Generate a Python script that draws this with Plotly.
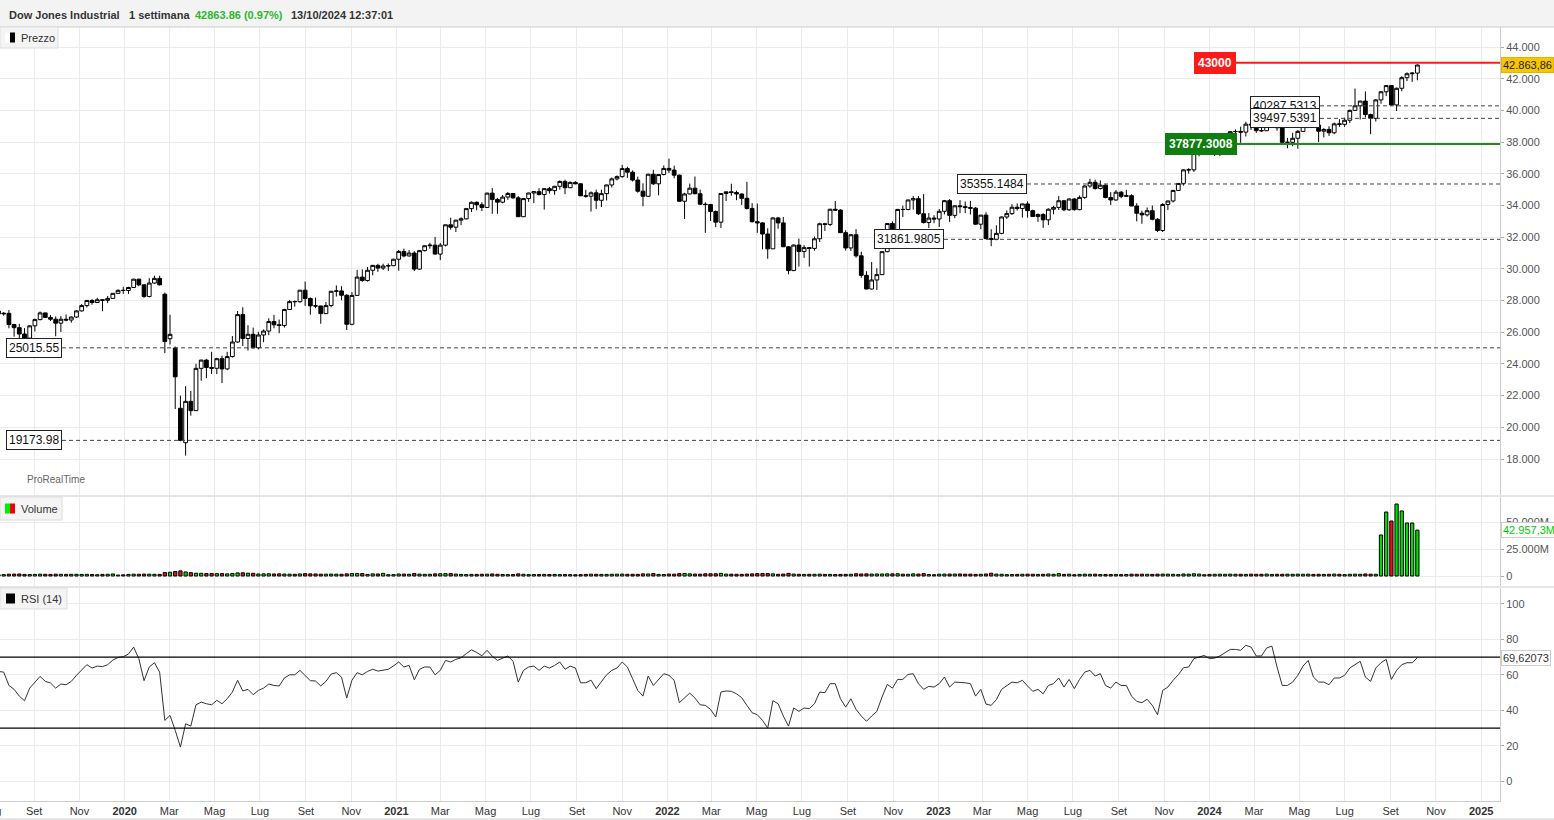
import pandas as pd
import plotly.graph_objects as go

# ---------------- data (weekly bars, Monday of each week, from 2019-07-15) ----------------
start_week = "2019-07-15"

open_ = [
    27332, 27154, 27192, 26485, 26287, 25886, 25629, 26403, 26797, 27220, 26935, 26820, 26573, 26817, 26770, 26958, 27347, 27681, 28005, 27876, 28051, 28015, 28135, 28455, 28645,
    28635, 28823, 29348, 28990, 28256, 29102, 29398, 28400, 25590, 25000, 21200, 19028, 21637, 21053, 23719, 24242, 23775, 23724, 24331, 23685, 24465, 25383, 27111, 25606, 25871, 25016, 25827, 26075, 26672, 26470, 26428, 27433, 27931, 27930, 28654, 28133, 27666, 27657, 27174, 27682, 28586, 28606, 28335, 26502, 28323, 29479, 29263, 29910, 30218, 30046, 30179, 30200,
    30606, 31098, 30814, 30997, 29983, 31148, 31458, 31494, 30932, 31496, 32779, 32628, 33073, 33153, 33801, 34200, 34043, 33875, 34778, 34382, 34208, 34529, 34756, 34480, 33290, 34434, 34786, 34870, 34688, 35061, 34935, 35209, 35515, 35120, 35456, 35369, 34608, 34584, 34798, 34327, 34746, 35295, 35677, 35820, 36328, 36100, 35602, 34899, 34580, 35971, 35365, 35951,
    36338, 36231, 35912, 34265, 34725, 35089, 34738, 34079, 34059, 33615, 32945, 34755, 34861, 34818, 34721, 34451, 33811, 32977, 32899, 32197, 31262, 33213, 32900, 31393, 29889, 31501, 31097, 31338, 31289, 31899, 32845, 32803, 33761, 33707, 32283, 31318, 32152, 30822, 29590, 28726, 29297, 29635, 31083, 32862, 32403, 33748, 33746, 34347, 34430, 33477, 32920, 33204,
    33147, 33631, 34303, 33375, 33978, 33926, 33869, 33827, 32817, 33391, 31910, 31862, 32238, 33274, 33485, 33886, 33809, 34098, 33674, 33300, 33427, 33093, 33762, 33877, 34299, 33727, 34408, 33734, 34509, 35228, 35459, 35066, 35281, 34500, 34346, 34838, 34576, 34618, 33964, 33508, 33407, 33670, 33127, 32418, 34061, 34283, 34947, 35390, 36246, 36248, 37306, 37385,
    37690, 37466, 37593, 37863, 38109, 38654, 38671, 38628, 39131, 39087, 38723, 38715, 39476, 39807, 38904, 37983, 37986, 38240, 38676, 39513, 40004, 39070, 38686, 38799, 38589, 39150, 39119, 39376, 40001, 40288, 40589, 39737, 39498, 40660, 41175, 41563, 40345, 41394, 42063, 42313, 42353,
]

high = [
    27399, 27272, 27398, 26494, 26532, 26260, 26428, 26859, 27306, 27230, 27080, 26998, 27028, 27121, 27000, 27386, 27775, 28036, 28090, 28174, 28069, 28290, 28456, 28701, 28872,
    28872, 29374, 29373, 29009, 29409, 29568, 29568, 28500, 27102, 25100, 22000, 22595, 22300, 24008, 24264, 24300, 24765, 24382, 24525, 24765, 25759, 27338, 27580, 26446, 26290, 26030, 26180, 26880, 27095, 26800, 27483, 28023, 28007, 28659, 29199, 28195, 28185, 27672, 27913, 28609, 28958, 28903, 28400, 28529, 29933, 29967, 30117, 30250, 30320, 30325, 30340, 30637,
    31193, 31272, 31188, 31112, 31200, 31482, 31643, 32010, 31630, 32793, 33227, 33098, 33258, 33810, 34256, 34256, 34200, 34811, 35091, 34474, 34659, 34849, 34774, 34587, 34478, 34802, 34893, 35091, 35068, 35171, 35236, 35580, 35632, 35510, 35530, 35379, 34990, 34884, 35000, 34996, 35310, 35765, 35892, 36565, 36442, 36210, 35820, 35400, 36000, 36249, 35952, 36527,
    36953, 36513, 35950, 34800, 35381, 35825, 35000, 34200, 34100, 33686, 34760, 34890, 35372, 34933, 34760, 35492, 34143, 34118, 32944, 32561, 33250, 33268, 33273, 31430, 31532, 31908, 31495, 31380, 32036, 32910, 32903, 33790, 34281, 33760, 32436, 32180, 32504, 31083, 29850, 30429, 30038, 31100, 32888, 33000, 33784, 33987, 34362, 34595, 34590, 34712, 33520, 33387,
    33773, 34342, 34400, 33990, 34335, 34253, 34291, 33900, 33400, 33572, 32500, 32748, 33300, 33685, 34082, 34128, 34104, 34257, 33732, 33500, 33514, 33819, 33977, 34588, 34350, 34451, 34466, 34630, 35283, 35679, 35630, 35577, 35320, 34838, 34979, 34900, 34988, 34701, 34142, 33670, 33873, 34000, 33200, 34149, 34300, 34991, 35420, 36282, 36352, 37321, 37641, 37778,
    37753, 37747, 37890, 38215, 38704, 38800, 38974, 39283, 39200, 39289, 39201, 39889, 39825, 39890, 39036, 38260, 38580, 38770, 39520, 40051, 40077, 39165, 38876, 39000, 39230, 39450, 39540, 40050, 41376, 40600, 41198, 39800, 40707, 41200, 41585, 41585, 41440, 42160, 42400, 42400, 42900,
]

low = [
    27048, 27040, 26249, 25718, 25339, 25480, 25500, 26044, 26750, 26923, 26704, 25743, 26018, 26689, 26600, 26897, 27300, 27561, 27735, 27862, 27325, 27840, 28130, 28455, 28419,
    28418, 28801, 28910, 28169, 28200, 29047, 28945, 24681, 25226, 21154, 19121, 18213, 20735, 21053, 22941, 23100, 23361, 23361, 22790, 23600, 24400, 25340, 25128, 24843, 24980, 24920, 25370, 25817, 26250, 25935, 26293, 27424, 27614, 27857, 27664, 27103, 27516, 26537, 27156, 27580, 28250, 28020, 26143, 26440, 28300, 29186, 29200, 29595, 29813, 29926, 29868, 30171,
    29881, 30728, 30775, 29856, 29950, 31102, 31269, 30904, 30547, 31416, 32471, 32322, 32753, 33120, 33587, 33695, 33650, 33850, 33474, 33472, 34140, 34355, 34415, 33271, 33271, 34230, 34145, 34629, 33741, 34750, 34672, 35000, 34710, 35100, 35330, 34600, 34496, 33613, 33785, 33901, 34316, 35133, 35580, 35750, 35739, 35511, 34810, 33952, 34550, 35300, 34640, 35900,
    36045, 35712, 34245, 33150, 34700, 34714, 34031, 32273, 33019, 32632, 32578, 34284, 34615, 34332, 34030, 33748, 32913, 32270, 31228, 30636, 31252, 32529, 31380, 29653, 29860, 30144, 30693, 30143, 31149, 31693, 32396, 32700, 33659, 32270, 31155, 31133, 30707, 29439, 28715, 28700, 28660, 29635, 31050, 31727, 32400, 33266, 33700, 33734, 33400, 32860, 32574, 32882,
    32650, 33434, 32961, 33200, 33510, 33518, 33427, 32780, 32500, 31854, 31429, 31806, 32180, 33150, 33400, 33678, 33235, 33235, 33291, 32961, 32586, 32759, 33441, 33713, 33641, 33661, 33675, 33700, 34406, 35117, 34999, 35009, 34444, 34029, 34300, 34458, 34558, 33963, 33000, 32846, 33300, 33060, 32327, 32327, 33710, 34194, 34917, 35253, 36009, 36114, 37100, 37356,
    37327, 37123, 37122, 37860, 37850, 38378, 37954, 38350, 38763, 38585, 38640, 38710, 39290, 38716, 37960, 37612, 37740, 37580, 38675, 39300, 39060, 38000, 38290, 38390, 38500, 38960, 38958, 39200, 40000, 39430, 39550, 38499, 39297, 40420, 40900, 40300, 39960, 41200, 41850, 41800, 41900,
]

close = [
    27154, 27192, 26485, 26287, 25886, 25629, 26403, 26797, 27220, 26935, 26820, 26573, 26817, 26770, 26958, 27347, 27681, 28005, 27876, 28051, 28015, 28135, 28455, 28645, 28635,
    28823, 29348, 28990, 28256, 29102, 29398, 28992, 25409, 25865, 23186, 19174, 21637, 21053, 23719, 24242, 23775, 23724, 24331, 23685, 24465, 25383, 27111, 25606, 25871, 25016, 25827, 26075, 26672, 26470, 26428, 27433, 27931, 27930, 28654, 28133, 27666, 27657, 27174, 27682, 28586, 28606, 28335, 26502, 28323, 29479, 29263, 29910, 30218, 30046, 30179, 30200, 30606,
    31098, 30814, 30997, 29983, 31148, 31458, 31494, 30932, 31496, 32779, 32628, 33073, 33153, 33801, 34200, 34043, 33875, 34778, 34382, 34208, 34529, 34756, 34480, 33290, 34434, 34786, 34870, 34688, 35061, 34935, 35209, 35515, 35120, 35456, 35369, 34608, 34584, 34798, 34327, 34746, 35295, 35677, 35820, 36328, 36100, 35602, 34899, 34580, 35971, 35365, 35951, 36338,
    36231, 35912, 34265, 34725, 35089, 34738, 34079, 34059, 33615, 32945, 34755, 34861, 34818, 34721, 34451, 33811, 32977, 32899, 32197, 31262, 33213, 32900, 31393, 29889, 31501, 31097, 31338, 31289, 31899, 32845, 32803, 33761, 33707, 32283, 31318, 32152, 30822, 29590, 28726, 29297, 29635, 31083, 32862, 32403, 33748, 33746, 34347, 34430, 33477, 32920, 33204, 33147,
    33631, 34303, 33375, 33978, 33926, 33869, 33827, 32817, 33391, 31910, 31862, 32238, 33274, 33485, 33886, 33809, 34098, 33674, 33300, 33427, 33093, 33762, 33877, 34299, 33727, 34408, 33734, 34509, 35228, 35459, 35066, 35281, 34500, 34346, 34838, 34576, 34618, 33964, 33508, 33407, 33670, 33127, 32418, 34061, 34283, 34947, 35390, 36246, 36248, 37306, 37385, 37690,
    37466, 37593, 37863, 38109, 38654, 38671, 38628, 39131, 39087, 38723, 38715, 39476, 39807, 38904, 37983, 37986, 38240, 38676, 39513, 40004, 39070, 38686, 38799, 38589, 39150, 39119, 39376, 40001, 40288, 40589, 39737, 39498, 40660, 41175, 41563, 40345, 41394, 42063, 42313, 42353, 42863.86,
]

volume_m = [
    1250, 1300, 1700, 1800, 1900, 1500, 1400, 1500, 1700, 1600, 1450, 1700, 1550, 1500, 1550, 1600, 1500, 1550, 1450, 1200, 1500, 1600, 1900, 900, 1100,
    1500, 1700, 1600, 1800, 1700, 1600, 1500, 3200, 3500, 4200, 4800, 3800, 3100, 2600, 2500, 2300, 2400, 2200, 2300, 2000, 2400, 2900, 3000, 2600, 2500, 1900, 2000, 2100, 1900, 2000, 1800, 1700, 1600, 1900, 2200, 2000, 1900, 1700, 1700, 1800, 1700, 1600, 2000, 2300, 2400, 2300, 1500, 2000, 1900, 2500, 1200, 1300,
    1900, 1800, 1600, 2300, 1800, 1600, 1600, 2000, 2100, 2200, 2300, 1800, 1500, 1400, 1500, 1500, 1600, 1700, 1900, 1600, 1400, 1300, 1400, 2000, 1600, 1300, 1400, 1400, 1500, 1400, 1500, 1300, 1400, 1300, 1200, 1300, 1500, 1700, 1600, 1500, 1500, 1600, 1700, 1800, 1600, 1600, 1500, 2000, 1900, 2300, 1500, 1400,
    1800, 1700, 2200, 2400, 2000, 1800, 1700, 2100, 2100, 2100, 2500, 1800, 1700, 1600, 1500, 1800, 2000, 2200, 2400, 2300, 2000, 1600, 1800, 2500, 1800, 1600, 1500, 1600, 1600, 1700, 1500, 1500, 1400, 1500, 1500, 1600, 2100, 1900, 2000, 1800, 1900, 1900, 2000, 2000, 2100, 1700, 1600, 2000, 1800, 2200, 1400, 1200,
    1700, 1800, 1800, 1800, 1900, 1700, 1700, 1500, 1600, 1900, 2600, 1800, 1600, 1300, 1400, 1500, 1600, 1700, 1600, 1500, 1600, 1900, 1600, 2200, 1500, 1700, 1200, 1500, 1700, 1600, 1700, 1400, 1400, 1400, 1500, 1300, 1400, 1700, 1600, 1700, 1600, 1500, 1700, 1800, 1700, 1600, 1300, 1900, 1700, 2100, 1800, 1200,
    1500, 1600, 1700, 1600, 1700, 1600, 1600, 1500, 1700, 1600, 1600, 1800, 1500, 1600, 1600, 1700, 1600, 1700, 1600, 1700, 1500, 1600, 1500, 1600, 1800, 1600, 1300, 1600, 1700, 1600, 1900, 1700, 1600, 38400, 59900, 51500, 67400, 60900, 49600, 49600, 42957.3,
]

rsi14 = [
    61.9, 61.5, 54.0, 51.8, 48.0, 45.4, 52.5, 55.9, 59.1, 56.3, 55.4, 52.5, 54.8, 54.4, 56.3, 59.7, 62.9, 65.7, 63.8, 64.9, 64.6, 65.7, 68.3, 69.8, 70.2,
    71.7, 75.6, 69.1, 56.7, 64.4, 66.8, 61.5, 34.3, 37.1, 28.7, 19.3, 32.4, 31.1, 43.1, 44.6, 43.7, 43.1, 45.6, 43.7, 46.5, 50.3, 56.9, 50.9, 51.8, 48.8, 51.2, 52.5, 54.8, 54.0, 53.7, 58.2, 60.0, 60.0, 62.5, 59.7, 56.7, 56.5, 53.7, 56.3, 60.4, 61.2, 58.7, 46.9, 56.9, 61.2, 60.0, 61.9, 63.1, 62.1, 62.5, 63.1, 65.0,
    67.2, 64.4, 65.3, 57.2, 63.1, 64.4, 64.4, 60.0, 62.5, 68.1, 67.2, 68.7, 69.6, 71.9, 74.1, 72.6, 70.7, 73.8, 70.5, 68.1, 69.4, 70.6, 67.6, 55.9, 62.5, 64.4, 64.9, 62.5, 64.9, 63.8, 65.3, 67.2, 63.1, 64.9, 63.8, 55.5, 55.5, 57.0, 52.2, 56.3, 60.0, 62.5, 63.8, 67.2, 64.4, 57.8, 51.2, 48.0, 59.3, 54.0, 57.4, 60.6,
    59.7, 56.9, 44.3, 46.9, 49.7, 46.9, 43.1, 42.8, 40.5, 36.2, 50.3, 50.9, 50.7, 49.3, 47.1, 42.8, 38.6, 37.5, 34.3, 30.0, 45.4, 43.7, 36.8, 31.1, 41.3, 39.4, 41.3, 40.9, 43.7, 50.3, 49.9, 55.0, 55.0, 46.5, 41.8, 46.5, 40.5, 36.8, 33.8, 36.8, 39.4, 47.5, 54.6, 52.5, 57.4, 57.4, 60.2, 60.6, 55.0, 51.8, 53.5, 53.1,
    55.0, 58.7, 53.1, 55.9, 55.9, 55.5, 55.0, 48.0, 51.8, 43.5, 42.8, 46.0, 51.8, 53.7, 55.9, 55.5, 56.9, 53.7, 50.7, 51.8, 49.3, 54.0, 55.0, 58.2, 53.1, 57.4, 52.2, 57.4, 61.5, 62.5, 59.3, 60.6, 54.0, 52.5, 55.9, 54.0, 54.0, 48.0, 45.0, 44.3, 46.2, 42.8, 37.5, 51.2, 53.1, 56.9, 60.0, 64.0, 64.4, 69.1, 70.0, 70.9,
    69.1, 69.4, 70.6, 72.4, 74.3, 74.3, 73.8, 76.6, 75.6, 70.6, 70.6, 75.1, 76.2, 64.4, 54.0, 54.0, 55.9, 59.7, 64.9, 68.1, 58.7, 55.9, 55.9, 54.4, 58.2, 58.2, 59.7, 63.8, 65.7, 67.6, 58.7, 56.3, 63.8, 66.8, 68.7, 57.4, 62.5, 65.7, 66.8, 66.8, 69.62073,
]

month_tick_dates = pd.date_range("2019-09-01", "2025-01-01", freq="2MS")
month_tick_labels = ["Set", "Nov", "2020", "Mar", "Mag", "Lug", "Set", "Nov",
                     "2021", "Mar", "Mag", "Lug", "Set", "Nov",
                     "2022", "Mar", "Mag", "Lug", "Set", "Nov",
                     "2023", "Mar", "Mag", "Lug", "Set", "Nov",
                     "2024", "Mar", "Mag", "Lug", "Set", "Nov", "2025"]

# horizontal levels: (value, label, start pixel x of the line)
dashed_levels = [25015.55, 19173.98, 31861.9805, 35355.1484, 40287.5313, 39497.5391]
dashed_labels = ["25015.55", "19173.98", "31861.9805", "35355.1484", "40287.5313", "39497.5391"]
dashed_start_px = [62, 62, 944, 1027, 1320, 1320]
resistance_level = 43000
support_level = 37877.3008
last_price = 42863.86
last_volume = 42957.3
last_rsi = 69.62073

n = len(close)
assert len(open_) == n and len(high) == n and len(low) == n and len(volume_m) == n and len(rsi14) == n, (
    len(open_), len(high), len(low), len(close), len(volume_m), len(rsi14))
dates = pd.date_range(start_week, periods=n, freq="7D")

# ---------------- layout geometry (pixels) ----------------
W, H = 1554, 820
ML, MR, MT, MB = 0, 54, 27, 19
PW = W - ML - MR          # 1500
PH = H - MT - MB          # 774


def px_x(px):
    return px / PW


def px_y(py):
    return (H - MB - py) / PH


FONT = "Liberation Sans, Arial, sans-serif"
GRID = "#ebebeb"

vol_colors = ["#00dd00" if c >= o else "#ee1111" for o, c in zip(open_, close)]

fig = go.Figure()
fig.add_trace(go.Candlestick(
    x=dates, open=open_, high=high, low=low, close=close,
    xaxis="x", yaxis="y",
    increasing=dict(line=dict(color="black", width=1), fillcolor="white"),
    decreasing=dict(line=dict(color="black", width=1), fillcolor="black"),
    whiskerwidth=0, showlegend=False, hoverinfo="skip",
))
fig.add_trace(go.Bar(
    x=dates, y=volume_m, xaxis="x", yaxis="y2",
    marker=dict(color=vol_colors, line=dict(color="black", width=1)),
    width=4.4 * 86400000, showlegend=False, hoverinfo="skip",
))
fig.add_trace(go.Scatter(
    x=dates, y=rsi14, xaxis="x", yaxis="y3", mode="lines",
    line=dict(color="#333333", width=1), showlegend=False, hoverinfo="skip",
))

ticktext = ["<b>%s</b>" % t if t.isdigit() else t for t in month_tick_labels]

fig.update_layout(
    width=W, height=H,
    margin=dict(l=ML, r=MR, t=MT, b=MB, pad=0),
    paper_bgcolor="white", plot_bgcolor="white",
    separators=",.",
    hovermode=False,
    boxgap=0.15, boxgroupgap=0.15,
    font=dict(family=FONT, size=11, color="#444"),
    xaxis=dict(
        type="date", range=["2019-07-17", "2025-01-26 07:00"], anchor="y3",
        rangeslider=dict(visible=False),
        tickvals=list(month_tick_dates), ticktext=ticktext,
        tickfont=dict(size=11, color="#333"),
        showgrid=True, gridcolor=GRID, gridwidth=1,
        showline=True, linecolor="#cccccc", ticks="", zeroline=False,
    ),
    yaxis=dict(
        domain=[px_y(495), 1.0], range=[15728, 45262], side="right", anchor="x",
        tickvals=list(range(18000, 44001, 2000)), tickformat=",.0f",
        showgrid=True, gridcolor=GRID, zeroline=False,
        ticks="outside", ticklen=3, tickcolor="#aaaaaa",
        showline=True, linecolor="#cccccc", tickfont=dict(size=11, color="#555"),
    ),
    yaxis2=dict(
        domain=[px_y(586), px_y(497)], range=[-9363, 73970], side="right", anchor="x",
        tickvals=[0, 25000, 50000], ticktext=["0", "25.000M", "50.000M"],
        showgrid=True, gridcolor=GRID, zeroline=False,
        ticks="outside", ticklen=3, tickcolor="#aaaaaa",
        showline=True, linecolor="#cccccc", tickfont=dict(size=11, color="#555"),
    ),
    yaxis3=dict(
        domain=[0.0, px_y(588)], range=[-11.1, 108.9], side="right", anchor="x",
        tickvals=[0, 20, 40, 60, 80, 100],
        showgrid=True, gridcolor=GRID, zeroline=False,
        ticks="outside", ticklen=3, tickcolor="#aaaaaa",
        showline=True, linecolor="#cccccc", tickfont=dict(size=11, color="#555"),
    ),
)

shapes = []
annotations = []

# header bar
shapes.append(dict(type="rect", xref="paper", yref="paper", x0=0, x1=px_x(W), y0=px_y(27), y1=px_y(0),
                   fillcolor="#f3f3f3", line=dict(width=0), layer="below"))
shapes.append(dict(type="line", xref="paper", yref="paper", x0=0, x1=px_x(W), y0=px_y(27), y1=px_y(27),
                   line=dict(color="#cccccc", width=1)))
# panel separators
for py in (496, 587):
    shapes.append(dict(type="line", xref="paper", yref="paper", x0=0, x1=px_x(W), y0=px_y(py), y1=px_y(py),
                       line=dict(color="#cccccc", width=1)))
shapes.append(dict(type="line", xref="paper", yref="paper", x0=0, x1=px_x(W), y0=px_y(819), y1=px_y(819),
                   line=dict(color="#cccccc", width=1)))

# RSI 70 / 30 bands
for lvl in (70, 30):
    shapes.append(dict(type="line", xref="paper", yref="y3", x0=0, x1=1, y0=lvl, y1=lvl,
                       line=dict(color="black", width=1.3)))

# dashed level lines with boxed labels
for val, lab, sx in zip(dashed_levels, dashed_labels, dashed_start_px):
    shapes.append(dict(type="line", xref="paper", yref="y", x0=px_x(sx), x1=1, y0=val, y1=val,
                       line=dict(color="#444444", width=1, dash="4px,3px")))
    annotations.append(dict(xref="paper", yref="y", x=px_x(sx), y=val, xanchor="right", yanchor="middle",
                            text=lab, showarrow=False, bgcolor="white", bordercolor="#222222",
                            borderwidth=1, borderpad=2, font=dict(family=FONT, size=12, color="#111")))

# resistance (red) and support (green)
shapes.append(dict(type="line", xref="paper", yref="y", x0=px_x(1236), x1=1, y0=resistance_level,
                   y1=resistance_level, line=dict(color="#ff1a1a", width=2)))
annotations.append(dict(xref="paper", yref="y", x=px_x(1236), y=resistance_level, xanchor="right",
                        yanchor="middle", text="<b>43000</b>", showarrow=False, bgcolor="#ff1a1a",
                        bordercolor="#ff1a1a", borderwidth=1, borderpad=3,
                        font=dict(family=FONT, size=12, color="white")))
shapes.append(dict(type="line", xref="paper", yref="y", x0=px_x(1237), x1=1, y0=support_level,
                   y1=support_level, line=dict(color="#1e8c1e", width=2)))
annotations.append(dict(xref="paper", yref="y", x=px_x(1237), y=support_level, xanchor="right",
                        yanchor="middle", text="<b>37877.3008</b>", showarrow=False, bgcolor="#0f7d0f",
                        bordercolor="#0f7d0f", borderwidth=1, borderpad=3,
                        font=dict(family=FONT, size=12, color="white")))

# last-value tags on the right axis
annotations.append(dict(xref="paper", yref="y", x=1.0, y=last_price, xanchor="left", yanchor="middle",
                        xshift=1, text="42.863,86", showarrow=False, bgcolor="#f7c600",
                        bordercolor="#e0b400", borderwidth=1, borderpad=1,
                        font=dict(family=FONT, size=11, color="#222")))
annotations.append(dict(xref="paper", yref="y2", x=1.0, y=last_volume, xanchor="left", yanchor="middle",
                        xshift=1, text="42.957,3M", showarrow=False, bgcolor="white",
                        bordercolor="#cccccc", borderwidth=1, borderpad=1,
                        font=dict(family=FONT, size=11, color="#00cc00")))
annotations.append(dict(xref="paper", yref="y3", x=1.0, y=last_rsi, xanchor="left", yanchor="middle",
                        xshift=1, text="69,62073", showarrow=False, bgcolor="white",
                        bordercolor="#cccccc", borderwidth=1, borderpad=1,
                        font=dict(family=FONT, size=11, color="#333")))

# header texts
hy = px_y(15)
for x_px, txt, col in [(7, "Dow Jones Industrial", "#333"), (127, "1 settimana", "#333"),
                       (193, "42863.86 (0.97%)", "#2eb82e"), (289, "13/10/2024 12:37:01", "#333")]:
    annotations.append(dict(xref="paper", yref="paper", x=px_x(x_px), y=hy, xanchor="left", yanchor="middle",
                            text="<b>%s</b>" % txt, showarrow=False,
                            font=dict(family=FONT, size=11, color=col)))

# panel legend tabs
tabs = [
    (27, 48, 58, "Prezzo", [("white", 5, 10), ("black", 10, 15)]),
    (497, 520, 62, "Volume", [("#00ee00", 5, 10), ("#ee0000", 10, 15)]),
    (588, 609, 67, "RSI (14)", [("black", 6, 15)]),
]
for y0, y1, x1, label, icons in tabs:
    shapes.append(dict(type="rect", xref="paper", yref="paper", x0=0, x1=px_x(x1), y0=px_y(y1), y1=px_y(y0),
                       fillcolor="#f4f4f4", line=dict(color="#dddddd", width=1)))
    for col, ix0, ix1 in icons:
        shapes.append(dict(type="rect", xref="paper", yref="paper", x0=px_x(ix0), x1=px_x(ix1),
                           y0=px_y((y0 + y1) / 2 + 5), y1=px_y((y0 + y1) / 2 - 5),
                           fillcolor=col, line=dict(width=0)))
    annotations.append(dict(xref="paper", yref="paper", x=px_x(19), y=px_y((y0 + y1) / 2), xanchor="left",
                            yanchor="middle", text=label, showarrow=False,
                            font=dict(family=FONT, size=11, color="#333")))

# watermark and clipped first month label
annotations.append(dict(xref="paper", yref="paper", x=px_x(25), y=px_y(480), xanchor="left", yanchor="middle",
                        text="ProRealTime", showarrow=False, font=dict(family=FONT, size=10, color="#666")))
annotations.append(dict(xref="paper", yref="paper", x=px_x(3), y=px_y(811), xanchor="right", yanchor="middle",
                        text="Lug", showarrow=False, font=dict(family=FONT, size=11, color="#333")))

fig.update_layout(shapes=shapes, annotations=annotations)
fig.write_html("out.html")
